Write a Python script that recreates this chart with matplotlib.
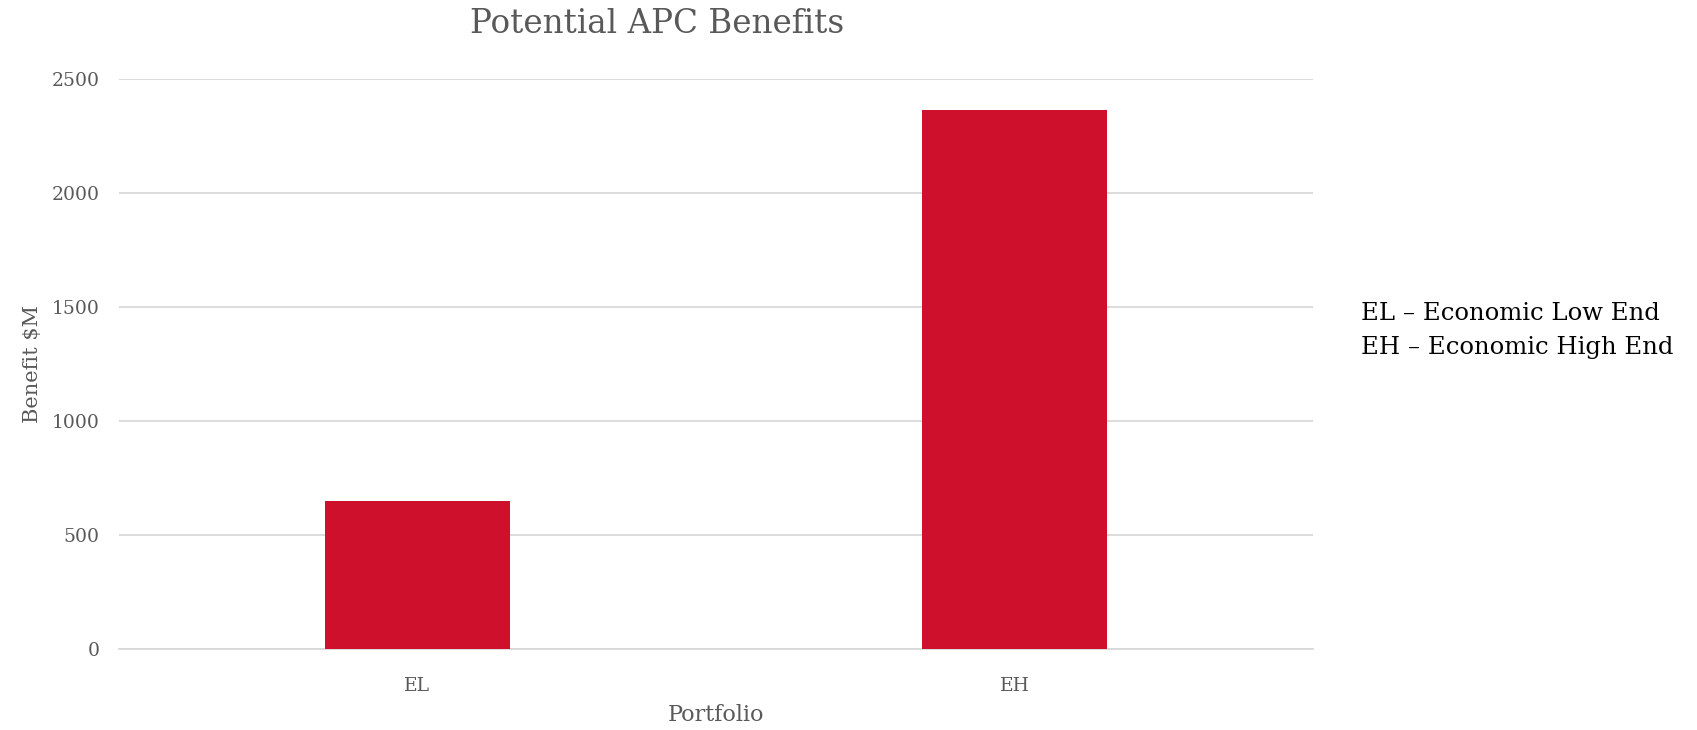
import matplotlib.pyplot as plt

# Veriler
portfolios = ['EL', 'EH']
benefits = [648, 2365]
notes = ['EL – Economic Low End', 'EH – Economic High End']

grey = '#595959'
plt.rcParams['font.family'] = ['DejaVu Serif']

fig = plt.figure(figsize=(16.97, 7.30), dpi=100)
ax = fig.add_axes([0.0701, 0.111, 0.7036, 0.781])

ax.bar(portfolios, benefits, width=0.31, color='#CF102D', zorder=3)
ax.set_xlim(-0.5, 1.5)
ax.set_ylim(0, 2500)
ax.set_yticks([0, 500, 1000, 1500, 2000, 2500])
ax.yaxis.grid(True, color='#d9d9d9', linewidth=1.3, zorder=0)

for s in ['top', 'right', 'left']:
    ax.spines[s].set_visible(False)
ax.spines['bottom'].set_color('#d9d9d9')
ax.spines['bottom'].set_linewidth(1.3)
ax.tick_params(axis='both', length=0, labelsize=13.5, colors=grey)
ax.tick_params(axis='x', pad=20)
ax.tick_params(axis='y', pad=14)

ax.set_xlabel('Portfolio', fontsize=16, color=grey, labelpad=7)
ax.set_ylabel('Benefit $M', fontsize=15, color=grey, labelpad=7)

fig.text(0.387, 0.967, 'Potential APC Benefits', fontsize=23.5, color=grey,
         ha='center', va='center')
fig.text(0.802, 0.571, notes[0], fontsize=17.5, color='black', va='center')
fig.text(0.802, 0.524, notes[1], fontsize=17.5, color='black', va='center')

fig.savefig('out.png', dpi=100)
